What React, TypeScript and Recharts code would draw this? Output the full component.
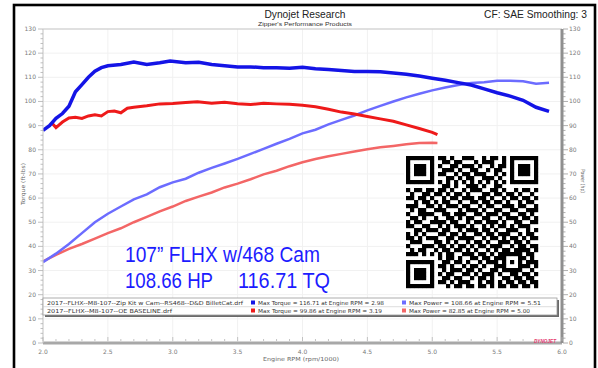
import React from "react";
import { ComposedChart, Line, XAxis, YAxis, CartesianGrid, ReferenceLine } from "recharts";

// ---------- data (rpm/1000, value) ----------
const torqueCam: [number, number][] = [
  [2.0, 88], [2.05, 90], [2.1, 93], [2.15, 95], [2.2, 98], [2.25, 104], [2.3, 107], [2.35, 110],
  [2.4, 112.5], [2.45, 114], [2.5, 114.8], [2.6, 115.3], [2.7, 116.3], [2.8, 115.3], [2.9, 116],
  [2.98, 116.7], [3.1, 116], [3.2, 116.2], [3.3, 115.3], [3.4, 114.8], [3.5, 114.3], [3.6, 114.3],
  [3.7, 114], [3.8, 114], [3.9, 113.8], [4.0, 114.2], [4.1, 113.5], [4.2, 113.2], [4.3, 112.8],
  [4.4, 112.4], [4.5, 112.4], [4.6, 112.3], [4.7, 111.8], [4.8, 111.3], [4.9, 110.5], [5.0, 109.6],
  [5.1, 108.8], [5.2, 107.8], [5.3, 106.8], [5.4, 105.2], [5.5, 103.6], [5.6, 102.2], [5.7, 100.5],
  [5.8, 97.6], [5.9, 95.9],
];
const powerCam: [number, number][] = [
  [2.0, 33.5], [2.1, 37], [2.2, 41], [2.3, 45.5], [2.4, 50], [2.5, 53.5], [2.6, 56.5], [2.7, 59.5],
  [2.8, 61.5], [2.9, 64.5], [3.0, 66.5], [3.1, 68], [3.2, 70.5], [3.3, 72.5], [3.4, 74.3], [3.5, 76.2],
  [3.6, 78.3], [3.7, 80.4], [3.8, 82.5], [3.9, 84.5], [4.0, 86.8], [4.1, 88.3], [4.2, 90.5], [4.3, 92.4],
  [4.4, 94.2], [4.5, 96.3], [4.6, 98.2], [4.7, 100], [4.8, 101.7], [4.9, 103.2], [5.0, 104.6],
  [5.1, 105.8], [5.2, 106.8], [5.3, 107.6], [5.4, 108], [5.5, 108.6], [5.6, 108.6], [5.7, 108.4],
  [5.8, 107.3], [5.9, 107.7],
];
const torqueBase: [number, number][] = [
  [2.07, 91], [2.1, 89.2], [2.15, 91.5], [2.2, 93.2], [2.25, 93.5], [2.3, 93], [2.35, 94], [2.4, 94.5],
  [2.45, 94], [2.5, 95.8], [2.55, 96], [2.6, 95.3], [2.65, 97.2], [2.7, 97.6], [2.8, 98.2], [2.9, 99],
  [3.0, 99.2], [3.1, 99.6], [3.19, 99.9], [3.3, 99.3], [3.4, 99.7], [3.5, 99.1], [3.6, 98.7],
  [3.7, 99.3], [3.8, 99], [3.9, 98.8], [4.0, 98.4], [4.1, 97.8], [4.2, 96.8], [4.3, 95.6], [4.4, 94.8],
  [4.5, 93.8], [4.6, 92.8], [4.7, 91.8], [4.8, 90.3], [4.9, 88.8], [5.0, 87.2], [5.04, 86.3],
];
const powerBase: [number, number][] = [
  [2.0, 33.8], [2.1, 36.5], [2.2, 39], [2.3, 41], [2.4, 43.2], [2.5, 45.5], [2.6, 47.5], [2.7, 50],
  [2.8, 52.2], [2.9, 54.5], [3.0, 56.5], [3.1, 58.8], [3.2, 60.6], [3.3, 62.3], [3.4, 64.4], [3.5, 66],
  [3.6, 67.8], [3.7, 69.8], [3.8, 71.3], [3.9, 73.2], [4.0, 74.8], [4.1, 76.2], [4.2, 77.3], [4.3, 78.3],
  [4.4, 79.3], [4.5, 80.2], [4.6, 81], [4.7, 81.6], [4.8, 82.3], [4.9, 82.8], [5.0, 82.9], [5.04, 82.8],
];

const rpmTickLabels = [2.0, 2.5, 3.0, 3.5, 4.0, 4.5, 5.0, 5.5, 6.0];
const valueTickLabels = [0, 10, 20, 30, 40, 50, 60, 70, 80, 90, 100, 110, 120, 130];

const runFiles = [
  "2017--FLHX--M8-107--Zip Kit w Cam--RS468--D&D BilletCat.drf",
  "2017--FLHX--M8-107--OE BASELINE.drf",
];
const maxTorqueText = [
  "Max Torque = 116.71 at Engine RPM = 2.98",
  "Max Torque = 99.86 at Engine RPM = 3.19",
];
const maxPowerText = [
  "Max Power = 108.66 at Engine RPM = 5.51",
  "Max Power = 82.85 at Engine RPM = 5.00",
];

// decorative QR code modules (33 x 33)
const qrRows = [
  "1111111011010011100101101" + "01111111",
  "1000001001101100010111001" + "01000001",
  "1011101010011011101001011" + "01011101",
  "1011101001110100110010110" + "01011101",
  "1011101011001011011100101" + "01011101",
  "1000001000110101100111010" + "01000001",
  "1111111010101010101010101" + "01111111",
  "00000000" + "01101001110100110" + "00000000",
  "101101" + "1" + "01101001011100110100101101",
  "010011" + "0" + "11010110100011011011010010",
  "110110" + "1" + "00101101110110100101101101",
  "001011" + "0" + "10110010011011011010010110",
  "111001" + "1" + "01011101100101100111011001",
  "010110" + "0" + "11100010111010011001100111",
  "100111" + "1" + "00110111001101110110011010",
  "011010" + "0" + "10011010110011001011101101",
  "101100" + "1" + "11101100101101110100110011",
  "110011" + "0" + "01010111010010101101011100",
  "001101" + "1" + "10110010111011010011100101",
  "101010" + "0" + "01101101001101101110010110",
  "110101" + "1" + "10011011110010110101101011",
  "011100" + "0" + "11010100101101001110110100",
  "100011" + "1" + "01101011010110111001011011",
  "010110" + "0" + "10110110101001010110111101",
  "111010" + "1" + "01011001110110101" + "11111" + "0110",
  "00000000" + "1011010011011011" + "10001" + "1010",
  "1111111" + "0" + "0110110100101110" + "10101" + "0111",
  "1000001" + "0" + "1101001011010011" + "10001" + "1101",
  "1011101" + "0" + "0101110110100110" + "11111" + "0010",
  "1011101" + "0" + "1011001101011101" + "00110" + "1101",
  "1011101" + "0" + "0110110010110100" + "11011" + "0110",
  "1000001" + "0" + "1101011100101101" + "01101" + "1011",
  "1111111" + "0" + "0010110110110101" + "10110" + "1101",
];

const toPts = (arr: [number, number][]) => arr.map(([rpm, v]) => ({ rpm, v }));

const BLUE = "#1414e6";
const LIGHT_BLUE = "#6c6cff";
const RED = "#ee1a1a";
const PINK = "#f36666";
const AXIS_FONT = "'DejaVu Sans', Verdana, sans-serif";
const TITLE_FONT = "'Liberation Sans', Arial, sans-serif";

const minorValueTicks = Array.from({ length: 66 }, (_, i) => i * 2);
const minorRpmTicks = Array.from({ length: 41 }, (_, i) => Math.round((2 + i * 0.1) * 10) / 10);

const LeftTick = (props: any) => {
  const { y, payload } = props;
  const v = payload.value;
  const major = valueTickLabels.includes(v);
  return (
    <g>
      <line x1={43} x2={major ? 38 : 40.5} y1={y} y2={y} stroke="#b0b0b0" strokeWidth={0.8} />
      {major && (
        <text x={36} y={y + 2} textAnchor="end" fontSize={6} fill="#7a7a7a" fontFamily={AXIS_FONT}>
          {v}
        </text>
      )}
    </g>
  );
};

const RightTick = (props: any) => {
  const { y, payload } = props;
  const v = payload.value;
  const major = valueTickLabels.includes(v);
  return (
    <g>
      <line x1={563} x2={major ? 568 : 565.5} y1={y} y2={y} stroke="#9a9a9a" strokeWidth={0.8} />
      {major && (
        <text x={569} y={y + 2} textAnchor="start" fontSize={6} fill="#7a7a7a" fontFamily={AXIS_FONT}>
          {v}
        </text>
      )}
    </g>
  );
};

const BottomTick = (props: any) => {
  const { x, payload } = props;
  const v = payload.value;
  const major = rpmTickLabels.some((t) => Math.abs(t - v) < 1e-6);
  return (
    <g>
      <line x1={x} x2={x} y1={341} y2={major ? 337 : 339} stroke="#b5b5b5" strokeWidth={0.8} />
      {major && (
        <text x={x} y={354} textAnchor="middle" fontSize={6} fill="#7a7a7a" fontFamily={AXIS_FONT}>
          {v.toFixed(1)}
        </text>
      )}
    </g>
  );
};

export default function App() {
  const qrX = 406;
  const qrY = 156;
  const mod = 4;
  return (
    <div style={{ position: "absolute", left: 0, top: 0, width: 598, height: 368, background: "#fff", overflow: "hidden" }}>
      <ComposedChart
        width={598}
        height={368}
        margin={{ top: 29, right: 0, bottom: 0, left: 0 }}
        style={{ position: "absolute", left: 0, top: 0 }}
      >
        <CartesianGrid stroke="#f1f1f1" xAxisId="x" yAxisId="l" horizontalValues={valueTickLabels} verticalValues={rpmTickLabels} />
        <XAxis
          xAxisId="x"
          type="number"
          dataKey="rpm"
          domain={[2, 6]}
          ticks={minorRpmTicks}
          interval={0}
          allowDataOverflow
          height={25}
          axisLine={{ stroke: "#a8a8a8", strokeWidth: 3 }}
          tickLine={false}
          tick={<BottomTick />}
        />
        <YAxis
          yAxisId="l"
          type="number"
          domain={[0, 130]}
          ticks={minorValueTicks}
          interval={0}
          width={43}
          axisLine={{ stroke: "#c8c8c8", strokeWidth: 1 }}
          tickLine={false}
          tick={<LeftTick />}
        />
        <YAxis
          yAxisId="r"
          orientation="right"
          type="number"
          domain={[0, 130]}
          ticks={minorValueTicks}
          interval={0}
          width={36}
          axisLine={{ stroke: "#8f8f8f", strokeWidth: 3 }}
          tickLine={false}
          tick={<RightTick />}
        />
        <ReferenceLine xAxisId="x" yAxisId="l" y={130} stroke="#c8c8c8" strokeWidth={1} />
        <Line xAxisId="x" yAxisId="r" data={toPts(powerBase)} dataKey="v" type="linear" dot={false} stroke={PINK} strokeWidth={2.5} isAnimationActive={false} />
        <Line xAxisId="x" yAxisId="r" data={toPts(powerCam)} dataKey="v" type="linear" dot={false} stroke={LIGHT_BLUE} strokeWidth={2.5} isAnimationActive={false} />
        <Line xAxisId="x" yAxisId="l" data={toPts(torqueBase)} dataKey="v" type="linear" dot={false} stroke={RED} strokeWidth={3} isAnimationActive={false} />
        <Line xAxisId="x" yAxisId="l" data={toPts(torqueCam)} dataKey="v" type="linear" dot={false} stroke={BLUE} strokeWidth={3.5} isAnimationActive={false} />
      </ComposedChart>

      <svg width={598} height={368} style={{ position: "absolute", left: 0, top: 0, pointerEvents: "none" }}>
        {/* frame */}
        <rect x={14} y={5} width={581} height={372} fill="none" stroke="#000" strokeWidth={2.6} />
        {/* titles */}
        <text x={305} y={18} textAnchor="middle" fontSize={10.5} fontFamily={TITLE_FONT} fill="#222" textLength={81} lengthAdjust="spacingAndGlyphs">
          Dynojet Research
        </text>
        <text x={305} y={25.5} textAnchor="middle" fontSize={6} fontFamily={TITLE_FONT} fill="#333" textLength={94} lengthAdjust="spacingAndGlyphs">
          Zipper's Performance Products
        </text>
        <text x={587} y={18} textAnchor="end" fontSize={10.5} fontFamily={TITLE_FONT} fill="#222" textLength={103} lengthAdjust="spacingAndGlyphs">
          CF: SAE Smoothing: 3
        </text>
        {/* axis titles */}
        <text transform="translate(25,184) rotate(-90)" textAnchor="middle" fontSize={5.5} fontFamily={AXIS_FONT} fill="#666" textLength={42} lengthAdjust="spacingAndGlyphs">
          Torque (ft-lbs)
        </text>
        <text transform="translate(581,181) rotate(90)" textAnchor="middle" fontSize={5.5} fontFamily={AXIS_FONT} fill="#666" textLength={24} lengthAdjust="spacingAndGlyphs">
          Power (hp)
        </text>
        <text x={301} y={361} textAnchor="middle" fontSize={5.5} fontFamily={AXIS_FONT} fill="#666" textLength={76} lengthAdjust="spacingAndGlyphs">
          Engine RPM (rpm/1000)
        </text>
        {/* dynojet logo */}
        <text x={534} y={343} fontSize={5.5} fontStyle="italic" fontWeight="bold" fontFamily={TITLE_FONT} fill="#e83a70" textLength={22} lengthAdjust="spacingAndGlyphs">
          DYNOJET
        </text>

        {/* overlay annotation */}
        <text x={125} y={262} fontSize={22} fontFamily="'Liberation Sans Narrow', 'Arial Narrow', 'Liberation Sans', sans-serif" fill="#1c1cff" textLength={195} lengthAdjust="spacingAndGlyphs">
          107” FLHX w/468 Cam
        </text>
        <text x={125} y={288} fontSize={22} fontFamily="'Liberation Sans Narrow', 'Arial Narrow', 'Liberation Sans', sans-serif" fill="#1c1cff" textLength={88} lengthAdjust="spacingAndGlyphs">
          108.66 HP
        </text>
        <text x={238} y={288} fontSize={22} fontFamily="'Liberation Sans Narrow', 'Arial Narrow', 'Liberation Sans', sans-serif" fill="#1c1cff" textLength={92} lengthAdjust="spacingAndGlyphs">
          116.71 TQ
        </text>

        {/* QR code */}
        <rect x={qrX - 2} y={qrY - 2} width={33 * mod + 4} height={33 * mod + 4} fill="#fff" />
        {qrRows.map((row, r) =>
          row
            .slice(0, 33)
            .split("")
            .map((c, col) =>
              c === "1" ? <rect key={r + "-" + col} x={qrX + col * mod} y={qrY + r * mod} width={mod + 0.2} height={mod + 0.2} fill="#000" /> : null
            )
        )}

        {/* legend box */}
        <rect x={45} y={300} width={514} height={17} fill="#6a6a6a" />
        <rect x={43} y={298} width={514} height={17} fill="#fff" stroke="#9a9a9a" strokeWidth={0.8} />
        <line x1={43} x2={557} y1={306.7} y2={306.7} stroke="#c8c8c8" strokeWidth={0.6} />
        {runFiles.map((f, i) => (
          <text key={"f" + i} x={47} y={305 + i * 8} fontSize={5.5} fontFamily={AXIS_FONT} fill="#333" textLength={i === 0 ? 196 : 125} lengthAdjust="spacingAndGlyphs">
            {f}
          </text>
        ))}
        {maxTorqueText.map((t, i) => (
          <g key={"t" + i}>
            <rect x={251} y={300.5 + i * 8} width={4} height={4} fill={i === 0 ? BLUE : RED} />
            <text x={258} y={305 + i * 8} fontSize={5.5} fontFamily={AXIS_FONT} fill="#333" textLength={i === 0 ? 126 : 124} lengthAdjust="spacingAndGlyphs">
              {t}
            </text>
          </g>
        ))}
        {maxPowerText.map((t, i) => (
          <g key={"p" + i}>
            <rect x={402} y={300.5 + i * 8} width={4} height={4} fill={i === 0 ? LIGHT_BLUE : PINK} />
            <text x={409} y={305 + i * 8} fontSize={5.5} fontFamily={AXIS_FONT} fill="#333" textLength={i === 0 ? 132 : 121} lengthAdjust="spacingAndGlyphs">
              {t}
            </text>
          </g>
        ))}
      </svg>
    </div>
  );
}
